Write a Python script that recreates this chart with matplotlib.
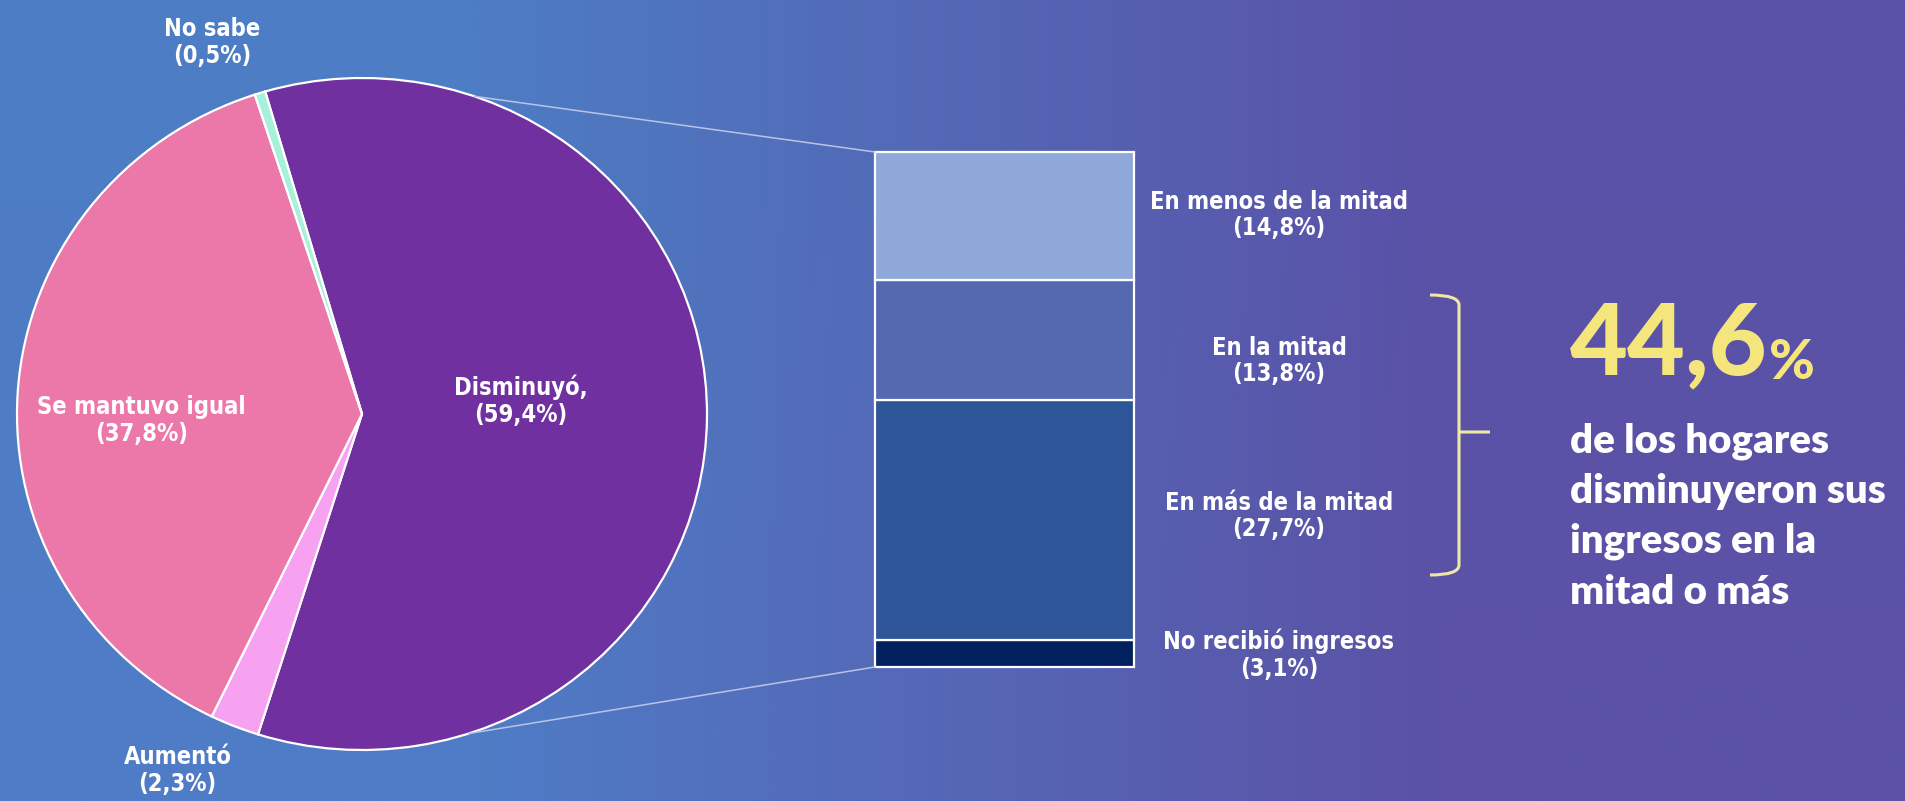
import numpy as np
import matplotlib.pyplot as plt
from matplotlib.patches import ConnectionPatch, PathPatch
from matplotlib.path import Path

W, H = 1906, 801

# pie: how household income changed
pie_labels = ['Disminuyó,', 'Aumentó', 'Se mantuvo igual', 'No sabe']
pie_values = [59.4, 2.3, 37.8, 0.5]
pie_colors = ['#7030a0', '#f6a2f0', '#ec78a9', '#a6f0dc']

# breakdown of "Disminuyó" (bottom to top)
bar_labels = ['No recibió ingresos', 'En más de la mitad', 'En la mitad', 'En menos de la mitad']
bar_values = [3.1, 27.7, 13.8, 14.8]
bar_colors = ['#00205e', '#2e5597', '#5469b0', '#8fa8da']

highlight_value = '44,6'
highlight_text = 'de los hogares\ndisminuyeron sus\ningresos en la\nmitad o más'

LABEL_FONT = ['DejaVu Sans']
BODY_FONT = ['Lato', 'DejaVu Sans']


def pct(v):
    return f'({v:.1f}%)'.replace('.', ',')


fig = plt.figure(figsize=(W / 100, H / 100), dpi=100)

# background gradient, pixel coords
ax = fig.add_axes([0, 0, 1, 1])
ax.set_xlim(0, W)
ax.set_ylim(H, 0)
ax.axis('off')
grad = np.array([[[77, 125, 196], [90, 82, 168]],
                 [[79, 124, 198], [91, 82, 166]]]) / 255
ax.imshow(grad, extent=(0, W, H, 0), interpolation='bilinear', aspect='auto', zorder=0)

# pie
ax_pie = fig.add_axes([17 / W, (H - 750) / H, 690 / W, 672 / H])
ax_pie.pie(pie_values, colors=pie_colors, startangle=106.3, counterclock=False, radius=1,
           wedgeprops=dict(edgecolor='white', linewidth=1.6))
ax_pie.set_aspect('auto')
ax_pie.set_xlim(-1, 1)
ax_pie.set_ylim(-1, 1)
ax_pie.axis('off')

pie_label_pos = [(0.46, 0.04), (-0.535, -1.06), (-0.64, -0.02), (-0.435, 1.105)]
for name, v, (x, y) in zip(pie_labels, pie_values, pie_label_pos):
    ax_pie.text(x, y, f'{name}\n{pct(v)}', ha='center', va='center', color='white',
                fontsize=17, fontweight='bold', family=LABEL_FONT, fontstretch='condensed',
                linespacing=1.15, clip_on=False)

# stacked bar
total = sum(bar_values)
ax_bar = fig.add_axes([875 / W, (H - 667) / H, 259 / W, 515 / H])
bottoms = np.concatenate([[0], np.cumsum(bar_values)[:-1]])
ax_bar.bar(0, bar_values, bottom=bottoms, width=1, color=bar_colors,
           edgecolor='white', linewidth=1.6, clip_on=False)
ax_bar.set_xlim(-0.5, 0.5)
ax_bar.set_ylim(0, total)
ax_bar.axis('off')

bar_label_y = [655, 516, 361, 215]
for name, v, y in zip(bar_labels, bar_values, bar_label_y):
    ax.text(1279, y, f'{name}\n{pct(v)}', ha='center', va='center', color='white',
            fontsize=17, fontweight='bold', family=LABEL_FONT, fontstretch='condensed',
            linespacing=1.15)

# connector lines from pie to bar
for ang, yb in [(71, total), (-72, 0)]:
    a = np.deg2rad(ang)
    con = ConnectionPatch(xyA=(np.cos(a), np.sin(a)), coordsA=ax_pie.transData,
                          xyB=(-0.5, yb), coordsB=ax_bar.transData,
                          color='#b9c3e6', linewidth=1.1)
    fig.add_artist(con)

# bracket
verts = [(1430, 295), (1459, 295), (1459, 305),
         (1459, 565), (1459, 575), (1430, 575),
         (1459, 432), (1490, 432)]
codes = [Path.MOVETO, Path.CURVE3, Path.CURVE3,
         Path.LINETO, Path.CURVE3, Path.CURVE3,
         Path.MOVETO, Path.LINETO]
ax.add_patch(PathPatch(Path(verts, codes), facecolor='none', edgecolor='#efe9a6', linewidth=2.2))

# highlight number and text
big = ax.text(1570, 374, highlight_value, ha='left', va='baseline', color='#f4e67c',
              fontsize=72, fontweight='black', family=BODY_FONT)
ax.annotate('%', xy=(1, 0), xycoords=big, xytext=(1, 2), textcoords='offset points',
            ha='left', va='bottom', color='#f4e67c', fontsize=40, fontweight='black',
            family=BODY_FONT)
ax.text(1570, 422, highlight_text, ha='left', va='top', color='white',
        fontsize=29, fontweight='heavy', family=BODY_FONT, linespacing=1.44)

fig.savefig('out.png', dpi=100)
